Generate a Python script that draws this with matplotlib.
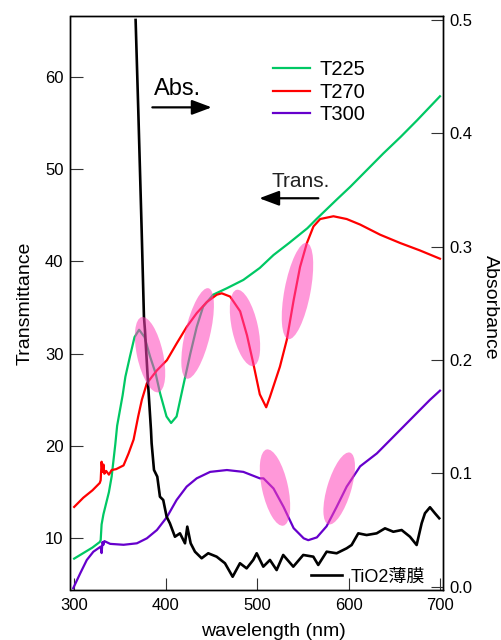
import matplotlib
matplotlib.use("Agg")
import matplotlib.pyplot as plt
from matplotlib.patches import Ellipse
from matplotlib.transforms import ScaledTranslation

plt.rcParams['font.family'] = ['Liberation Sans', 'Noto Sans CJK JP', 'DejaVu Sans']

# ---- data ----
t225_nm = [300, 310, 320, 328, 329, 330, 332, 334, 338, 341, 345, 347, 353, 356, 361, 366, 371,
           377, 383, 389, 394, 401, 406, 412, 419, 427, 434, 441, 452, 467, 485, 503, 518,
           535, 555, 565, 587, 602, 620, 638, 657, 675, 700]
t225_T = [7.8, 8.4, 9.0, 9.6, 9.8, 11.5, 12.6, 13.4, 15.0, 16.7, 20.2, 22.2, 25.5, 27.5, 29.7, 31.8, 32.6,
          31.8, 29.7, 27.9, 25.7, 23.2, 22.5, 23.2, 26.4, 30.0, 32.9, 35.1, 36.4, 37.1, 38.0, 39.3, 40.7,
          42.0, 43.6, 44.6, 46.7, 48.1, 49.9, 51.7, 53.5, 55.3, 57.9]

t270_nm = [300, 310, 320, 328, 329, 330, 331, 332, 333, 335, 338, 341, 346, 354, 359.5, 365, 370, 374,
           379.5, 390.5, 401.4, 412, 423, 434, 445, 456, 461.4, 470.5, 481.5, 489, 496, 503, 510,
           514, 525, 532.5, 540, 547, 554.5, 561.7, 569, 583.5, 598, 612.7, 634.6, 656.5, 678, 700]
t270_T = [13.4, 14.4, 15.2, 16.0, 16.3, 18.3, 17.2, 18.0, 17.0, 17.3, 16.9, 17.4, 17.5, 17.9, 19.2, 20.7, 23.2, 25.0,
          26.8, 28.2, 29.3, 31.1, 32.9, 34.4, 35.6, 36.4, 36.55, 36.2, 34.6, 32.0, 28.9, 25.6, 24.2,
          25.3, 28.6, 31.5, 35.8, 39.4, 42.0, 43.8, 44.6, 44.9, 44.6, 44.0, 42.9, 42.0, 41.2, 40.3]

t300_nm = [299, 306.6, 313.8, 321, 329, 330, 331, 332, 333, 339.4, 354, 368.6, 379.5, 390.5, 401.4,
           412, 423, 434, 448.7, 467, 485, 503, 507, 518, 529, 540, 551, 556, 565.4, 576, 587, 598,
           612.7, 631, 649, 667, 689, 700]
t300_T = [4.6, 6.2, 7.65, 8.55, 9.1, 8.4, 9.6, 9.3, 9.7, 9.4, 9.3, 9.46, 10.0, 10.9, 12.3,
          14.15, 15.6, 16.5, 17.2, 17.4, 17.2, 16.5, 16.5, 15.4, 13.4, 11.1, 10.0, 9.8, 10.1, 11.3, 13.4, 15.6,
          17.8, 19.2, 21.0, 22.8, 25.0, 26.0]

abs_nm = [367.2, 370.1, 373.8, 376.3, 377.4, 381.0, 384.0, 384.7, 387.3, 390.9, 393.8, 397.4, 401.1,
          404.7, 410.2, 415.7, 421.2, 423.7, 427.4, 432.1, 439.4, 446.6, 455.8, 464.9, 473.3, 481.3,
          488.6, 495.8, 499.6, 506.8, 514.1, 521.4, 528.6, 539.6, 550.5, 561.5, 566.9, 576.1, 587.0,
          598.0, 603.4, 610.7, 619.8, 630.8, 639.9, 649.0, 658.1, 667.2, 674.5, 680.0, 683.6, 689.1,
          694.5, 699.2]
abs_A = [0.500, 0.4208, 0.3149, 0.2383, 0.2266, 0.1765, 0.1383, 0.1266, 0.1030, 0.0971, 0.0794, 0.0765, 0.0618,
         0.0559, 0.0441, 0.0471, 0.0383, 0.0530, 0.0383, 0.0309, 0.0251, 0.0295, 0.0265, 0.0207, 0.0088, 0.0207,
         0.0162, 0.0236, 0.0295, 0.0177, 0.0236, 0.0147, 0.0280, 0.0177, 0.0280, 0.0265, 0.0192, 0.0309, 0.0295,
         0.0339, 0.0368, 0.0471, 0.0456, 0.0471, 0.0515, 0.0485, 0.0500, 0.0441, 0.0368, 0.0560, 0.0648, 0.0701,
         0.0648, 0.0604]

series_labels = ['T225', 'T270', 'T300']
abs_label = 'TiO2薄膜'

# highlight ellipses: centre (nm, T), width/height in px, angle in deg
ell_nm = [383.0, 435.0, 486.8, 544.2, 519.6, 589.8]
ell_T = [29.9, 32.2, 32.8, 36.8, 15.5, 15.4]
ell_w = [26, 25, 26, 26, 26, 24]
ell_h = [77, 93, 78, 98, 78, 75]
ell_ang = [12.5, -13.5, 12.3, -10.8, 12.4, -16.8]

x_ticks = [300, 400, 500, 600, 700]
left_ticks = [10, 20, 30, 40, 50, 60]
right_ticks = [0.0, 0.1, 0.2, 0.3, 0.4, 0.5]

# ---- figure ----
fig = plt.figure(figsize=(5.02, 6.40), dpi=100)
ax = fig.add_axes([70.5 / 502, 1 - 590 / 640, 372.2 / 502, 574 / 640])
ax2 = ax.twinx()

green, red, purple = '#00c864', '#ff0000', '#6600cc'
l1, = ax.plot(t225_nm, t225_T, color=green, lw=1.6, label=series_labels[0])
l2, = ax.plot(t270_nm, t270_T, color=red, lw=1.6, label=series_labels[1])
l3, = ax.plot(t300_nm, t300_T, color=purple, lw=1.6, label=series_labels[2])
l4, = ax2.plot(abs_nm, abs_A, color='black', lw=1.9, label=abs_label)

ax.set_xlim(296, 703)
ax.set_ylim(4.4, 66.6)
ax2.set_ylim(-0.0029, 0.5035)

ax.set_xticks(x_ticks)
ax.set_yticks(left_ticks)
ax2.set_yticks(right_ticks)
ax2.set_yticklabels([f'{v:.1f}' for v in right_ticks])

for a in (ax, ax2):
    a.tick_params(direction='in', length=9, width=0.8, labelsize=12, pad=5, color='#333333')
    for s in a.spines.values():
        s.set_linewidth(1.0)
ax.tick_params(axis='x', pad=6)

ax.set_xlabel('wavelength (nm)', fontsize=14)
ax.xaxis.set_label_coords(0.5454, -0.058)
ax.set_ylabel('Transmittance', fontsize=14)
ax.yaxis.set_label_coords(-0.098, 0.5)
ax2.set_ylabel('Absorbance', fontsize=14, rotation=270, va='bottom')
ax2.yaxis.set_label_coords(1.1056, 0.492)

# ellipses
for cx, cy, w, h, a in zip(ell_nm, ell_T, ell_w, ell_h, ell_ang):
    tr = fig.dpi_scale_trans + ScaledTranslation(cx, cy, ax.transData)
    e = Ellipse((0, 0), w / 100, h / 100, angle=a, transform=tr,
                facecolor='#ff44bb', edgecolor='none', alpha=0.55, zorder=10)
    ax2.add_artist(e)

# texts and arrows
ax.text(387.3, 58.05, 'Abs.', fontsize=17, va='baseline', ha='left')
ax.annotate('', xy=(450.4, 56.7), xytext=(385.5, 56.7),
            arrowprops=dict(arrowstyle='-|>,head_length=0.8,head_width=0.3', lw=1.6,
                            color='black', shrinkA=0, shrinkB=0, mutation_scale=15))
ax.text(516.0, 48.11, 'Trans.', fontsize=15, va='baseline', ha='left', color='#222222')
ax.annotate('', xy=(502.4, 46.85), xytext=(567, 46.85),
            arrowprops=dict(arrowstyle='-|>,head_length=0.8,head_width=0.3', lw=1.6,
                            color='black', shrinkA=0, shrinkB=0, mutation_scale=15))

leg1 = ax2.legend(handles=[l1, l2, l3], loc='upper left', frameon=False, fontsize=14.5,
                  bbox_to_anchor=(273.3 / 502, 1 - 60.0 / 640), bbox_transform=fig.transFigure,
                  borderpad=0, borderaxespad=0, handlelength=1.83, handletextpad=0.45,
                  labelspacing=0.18)
ax2.add_artist(leg1)
leg2 = ax2.legend(handles=[l4], loc='center left', frameon=False, fontsize=13,
                  bbox_to_anchor=(311 / 502, 1 - 577 / 640), bbox_transform=fig.transFigure,
                  borderpad=0, borderaxespad=0, handlelength=1.74, handletextpad=0.45)

fig.savefig('out.png', dpi=100)
